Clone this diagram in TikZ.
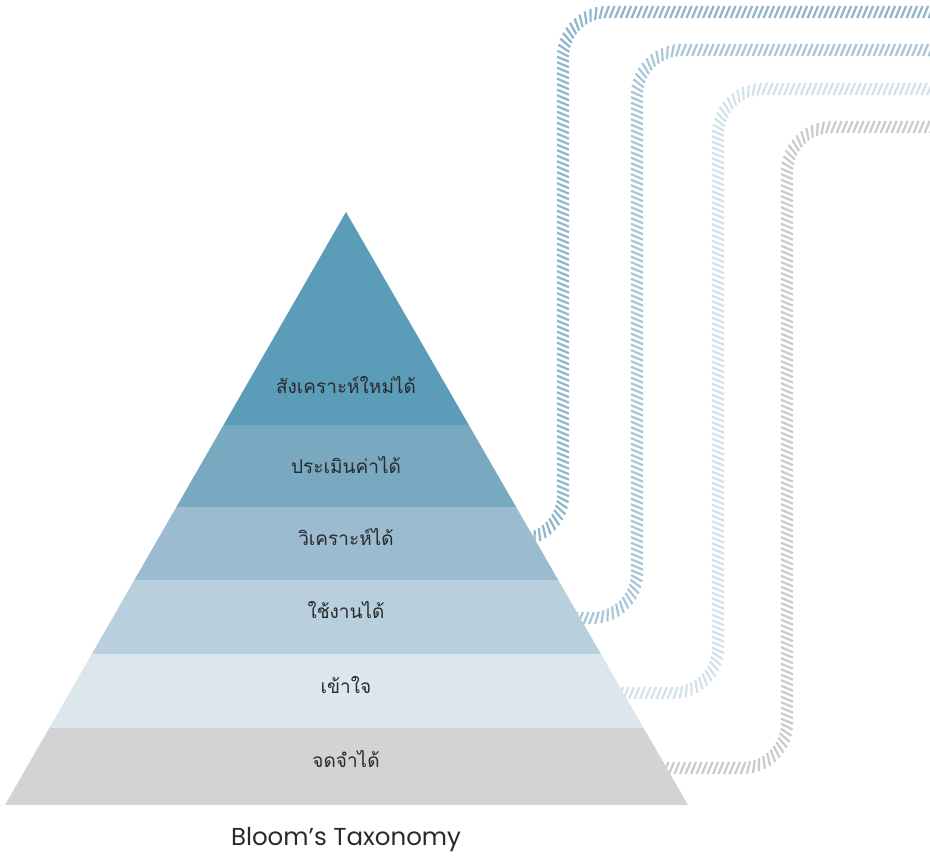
\documentclass[tikz,border=0pt]{standalone}
\usepackage{fontspec}
\setmainfont{Poppins}
\newfontfamily\thaifont[Script=Thai]{Loma}
\usetikzlibrary{decorations.markings}
\definecolor{lvlA}{HTML}{5B9CB9}
\definecolor{lvlB}{HTML}{79A9C1}
\definecolor{lvlC}{HTML}{9BBCD0}
\definecolor{lvlD}{HTML}{B8CFDD}
\definecolor{lvlE}{HTML}{DBE6ED}
\definecolor{lvlF}{HTML}{D2D3D5}
\definecolor{bandA}{HTML}{8FB5CC}
\definecolor{bandB}{HTML}{A9C6D8}
\definecolor{bandC}{HTML}{D3E1EA}
\definecolor{bandD}{HTML}{CBCBCB}
\definecolor{ink}{HTML}{2A2A2A}
\begin{document}
\begin{tikzpicture}[x=1pt,y=-1pt]
	\useasboundingbox (0,0) rectangle (930,857);
	\tikzset{
		hatch/.style={decoration={markings,
			mark=between positions 0 and 1 step 5.5pt with
			{\draw[#1,line width=2.2pt] (-2.5pt,-6pt)--(2.5pt,6pt);}},decorate},
		lbl/.style={text=ink,font=\thaifont\fontsize{19}{22}\selectfont}}
	% hatched bands behind the pyramid
	\path[hatch=bandA,rounded corners=45](480,540)--(563,540)--(563,12)--(935,12);
	\path[hatch=bandB,rounded corners=45](520,618)--(637,618)--(637,50)--(935,50);
	\path[hatch=bandC,rounded corners=45](560,693)--(718,693)--(718,89)--(935,89);
	\path[hatch=bandD,rounded corners=45](600,768)--(787,768)--(787,127)--(935,127);
	% pyramid layers
	\begin{scope}
		\clip(346,212)--(688,805)--(5,805)--cycle;
		\foreach \ya/\yb/\col in {212/425/lvlA,425/507/lvlB,507/580/lvlC,
			580/654/lvlD,654/728/lvlE,728/805/lvlF}
			\fill[\col](0,\ya)rectangle(930,\yb);
	\end{scope}
	\node[lbl](synth)at(346,385){สังเคราะห์ใหม่ได้};
	\node[lbl](eval)at(346,465){ประเมินค่าได้};
	\node[lbl](anal)at(346,537){วิเคราะห์ได้};
	\node[lbl](appl)at(346,610){ใช้งานได้};
	\node[lbl](under)at(346,685){เข้าใจ};
	\node[lbl](recall)at(346,759){จดจำได้};
	\node[text=ink,font=\fontsize{24.5}{28}\selectfont](title)at(346,840){Bloom\symbol{39}s Taxonomy};
\end{tikzpicture}
\end{document}
